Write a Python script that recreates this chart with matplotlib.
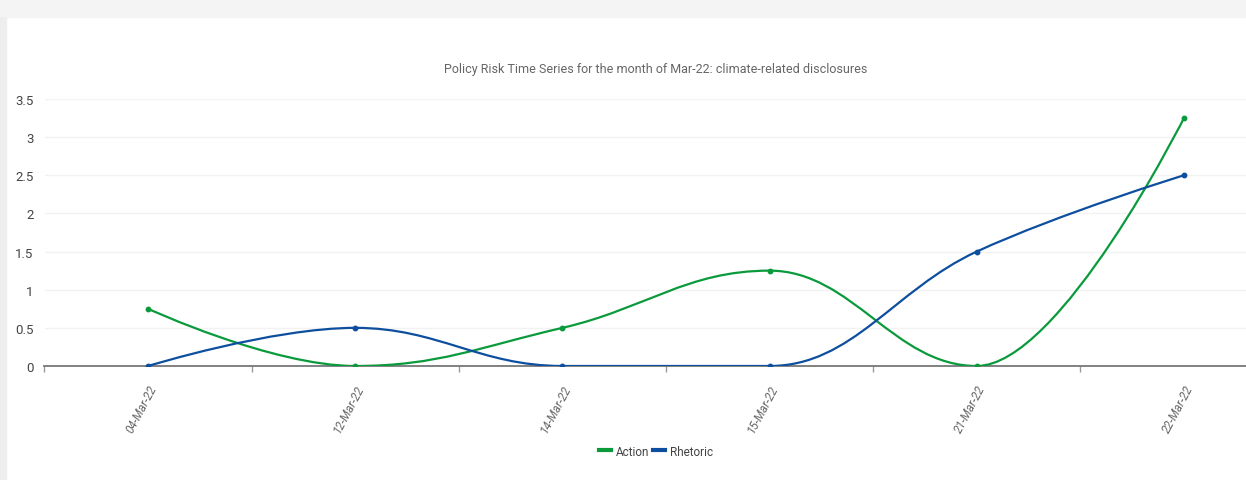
import numpy as np
import matplotlib
matplotlib.use("Agg")
import matplotlib.pyplot as plt
from matplotlib.path import Path
from matplotlib.patches import PathPatch, Rectangle
from matplotlib.lines import Line2D

plt.rcParams['font.family'] = ['Roboto', 'DejaVu Sans']

# data
dates = ['04-Mar-22', '12-Mar-22', '14-Mar-22', '15-Mar-22', '21-Mar-22', '22-Mar-22']
action = [0.75, 0, 0.5, 1.25, 0, 3.25]
rhetoric = [0, 0.5, 0, 0, 1.5, 2.5]
yticks = [0, 0.5, 1, 1.5, 2, 2.5, 3, 3.5]

green = '#0a9a3c'
blue = '#0d4f9e'


def spline_path(xs, ys, smoothing=1.5):
    # highcharts style spline through the points
    n = len(xs)
    ctrl = []
    for i in range(n):
        x, y = xs[i], ys[i]
        if i == 0 or i == n - 1:
            ctrl.append((x, y, x, y))
            continue
        lx, ly = xs[i - 1], ys[i - 1]
        nx, ny = xs[i + 1], ys[i + 1]
        d = smoothing + 1
        lcx = (smoothing * x + lx) / d
        lcy = (smoothing * y + ly) / d
        rcx = (smoothing * x + nx) / d
        rcy = (smoothing * y + ny) / d
        if rcx != lcx:
            corr = (rcy - lcy) * (rcx - x) / (rcx - lcx) + y - rcy
            lcy += corr
            rcy += corr
        if lcy > ly and lcy > y:
            lcy = max(ly, y)
            rcy = 2 * y - lcy
        elif lcy < ly and lcy < y:
            lcy = min(ly, y)
            rcy = 2 * y - lcy
        if rcy > ny and rcy > y:
            rcy = max(ny, y)
            lcy = 2 * y - rcy
        elif rcy < ny and rcy < y:
            rcy = min(ny, y)
            lcy = 2 * y - rcy
        ctrl.append((lcx, lcy, rcx, rcy))
    verts = [(xs[0], ys[0])]
    codes = [Path.MOVETO]
    for i in range(1, n):
        verts += [(ctrl[i - 1][2], ctrl[i - 1][3]), (ctrl[i][0], ctrl[i][1]), (xs[i], ys[i])]
        codes += [Path.CURVE4] * 3
    return Path(verts, codes)


W, H = 1246, 481
fig = plt.figure(figsize=(W / 100, H / 100), dpi=100)

# screenshot frame
fig.patches.append(Rectangle((0, 1 - 18 / H), 1, 18 / H, transform=fig.transFigure,
                             color='#f4f4f4', zorder=0))
fig.patches.append(Rectangle((0, 0), 6 / W, 1 - 18 / H, transform=fig.transFigure,
                             color='#eeeeee', zorder=0))

ax = fig.add_axes([44.5 / W, (H - 367) / H, (1287.5 - 44.5) / W, 267 / H])
x = np.arange(len(dates))

for vals, col in [(action, green), (rhetoric, blue)]:
    p = spline_path(list(x), vals)
    ax.add_patch(PathPatch(p, facecolor='none', edgecolor=col, lw=1.6, zorder=3,
                           capstyle='round', joinstyle='round'))
    ax.plot(x, vals, 'o', color=col, ms=3.2, zorder=4)

ax.set_xlim(-0.5, len(dates) - 0.5)
ax.set_ylim(0, 3.5)
ax.set_yticks(yticks)
ax.set_yticklabels([f'{v:g}' for v in yticks])
ax.set_xticks(x)
ax.set_xticklabels(dates, rotation=62, ha='right', va='top', rotation_mode='anchor',
                   color='#666666', fontsize=8.5)
ax.set_xticks(np.arange(len(dates) + 1) - 0.5, minor=True)
ax.tick_params(axis='x', which='major', length=0, pad=12)
ax.tick_params(axis='x', which='minor', length=4, color='#999999', width=1)
ax.tick_params(axis='y', length=0, labelsize=9.5, labelcolor='#444444', pad=8)
for lbl in ax.get_xticklabels():
    lbl.set_fontstyle('italic')

ax.grid(axis='y', color='#f2f2f2', lw=1)
ax.set_axisbelow(True)
for s in ['top', 'right', 'left']:
    ax.spines[s].set_visible(False)
ax.spines['bottom'].set_color('#777777')
ax.spines['bottom'].set_linewidth(1.3)
ax.spines['bottom'].set_zorder(2)

fig.text(656 / W, 1 - 70 / H, 'Policy Risk Time Series for the month of Mar-22: climate-related disclosures',
         ha='center', va='center', fontsize=9, color='#666666')

handles = [Line2D([0], [0], color=green, lw=3), Line2D([0], [0], color=blue, lw=3)]
fig.legend(handles, ['Action', 'Rhetoric'], loc='center', bbox_to_anchor=(656 / W, 1 - 452 / H),
           ncol=2, frameon=False, fontsize=8.5, handlelength=1.0, handletextpad=0.4,
           columnspacing=0.4, labelcolor='#444444')

fig.savefig('out.png', dpi=100)
